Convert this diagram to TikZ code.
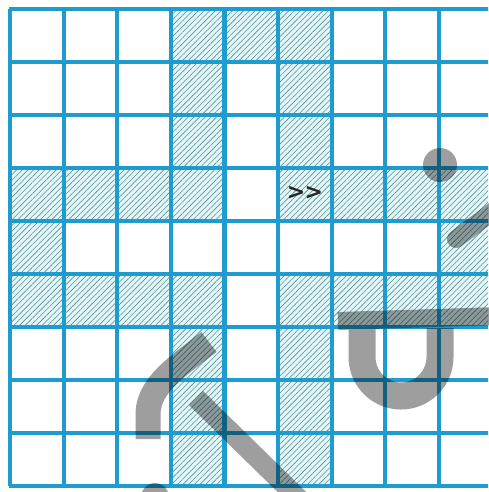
\documentclass[tikz,border=0pt]{standalone}
\usepackage{fontspec}
\newfontfamily\markfont{DejaVu Sans}
\usetikzlibrary{patterns.meta}
\definecolor{gridblue}{HTML}{1E9CCF}
\definecolor{hatchfill}{HTML}{E2F7F9}
\definecolor{hatchline}{HTML}{5E8C92}
\begin{document}
\begin{tikzpicture}[x=0.5pt,y=-0.5pt,
  hatched/.style={fill=hatchfill, postaction={pattern={Lines[angle=45,distance=2pt,line width=0.3pt]}, pattern color=hatchline}},
  gridline/.style={draw=gridblue, line width=2.1pt},
  wmstroke/.style={draw=black}]
\useasboundingbox (0,0) rectangle (488,492);
\clip (0,0) rectangle (488,492);
\fill[white] (0,0) rectangle (488,492);
% hatched cells
\foreach \c/\r in {3/0,4/0,5/0,3/1,5/1,3/2,5/2,0/3,1/3,2/3,3/3,5/3,6/3,7/3,8/3,0/4,8/4,0/5,1/5,2/5,3/5,5/5,6/5,7/5,8/5,3/6,5/6,3/7,5/7,3/8,5/8}
  \path[hatched] ({10+53.6*\c},{9+53*\r}) rectangle ({10+53.6*(\c+1)},{9+53*(\r+1)});
% grid
\foreach \k in {0,...,9}
  \draw[gridline] ({10+53.6*\k},9) -- ({10+53.6*\k},486);
\foreach \k in {0,...,9}
  \draw[gridline] (9,{9+53*\k}) -- (500,{9+53*\k});
% mark
\node[font=\markfont\bfseries\fontsize{11}{13}\selectfont, text=black!85, inner sep=0pt] (mark) at (305,193) {>\kern-0.3pt>};
% watermark
\begin{scope}[transparency group, opacity=0.38]
  \fill[black] (440,165) circle (17);
  \draw[wmstroke, line width=9pt, line cap=round] (456,239) -- (500,206);
  \draw[wmstroke, line width=9pt] (338,321) -- (500,316);
  \draw[wmstroke, line width=13.5pt] (362,328) -- (362,357) arc (180:0:39) -- (440,328);
  \draw[wmstroke, line width=12.5pt] (209,342) .. controls (175,368) and (150,385) .. (148,412) -- (148,439);
  \draw[wmstroke, line width=10pt] (196,398) -- (300,500);
  \fill[black] (155,497) circle (14);
\end{scope}
\end{tikzpicture}
\end{document}
